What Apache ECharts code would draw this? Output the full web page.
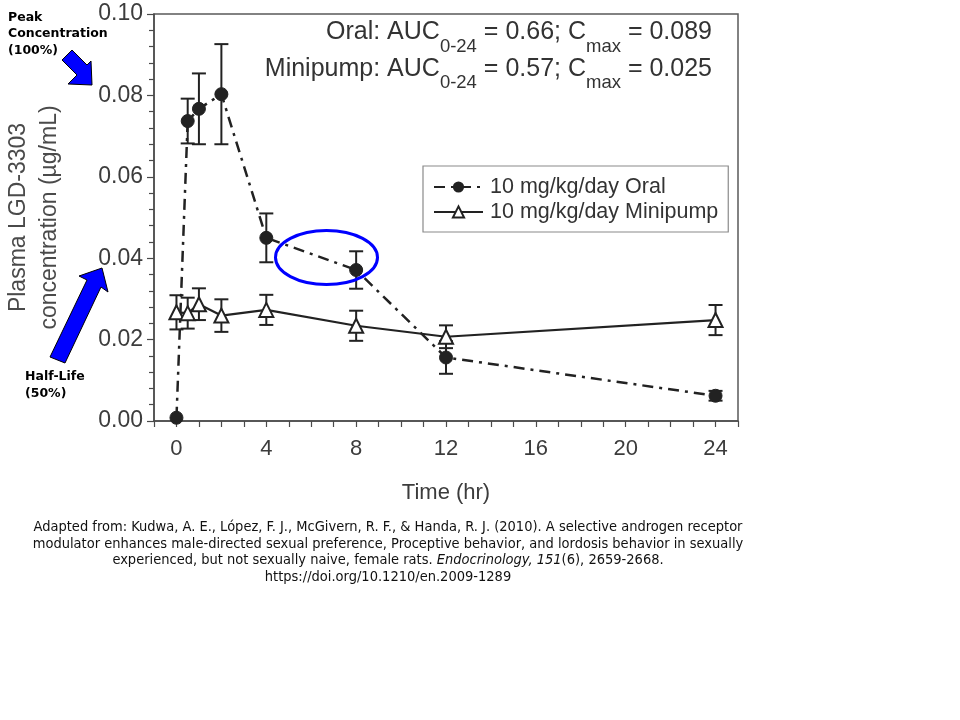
<!DOCTYPE html>
<html>
<head>
<meta charset="utf-8">
<script src="https://cdn.jsdelivr.net/npm/echarts@6/dist/echarts.min.js"></script>
<style>html,body{margin:0;padding:0;background:#fff}#c{width:960px;height:720px}</style>
</head>
<body>
<div id="c"></div>
<script>
// ---- data ----
const times = [0, 0.5, 1, 2, 4, 8, 12, 24];
const oralMean = [0.0008, 0.0737, 0.0767, 0.0803, 0.0450, 0.0371, 0.0156, 0.0062];
const oralErr  = [0, 0.0055, 0.0087, 0.0123, 0.0060, 0.0046, 0.0040, 0.0012];
const pumpMean = [0.0267, 0.0265, 0.0287, 0.0259, 0.0273, 0.0234, 0.0207, 0.0248];
const pumpErr  = [0.0042, 0.0038, 0.0039, 0.0040, 0.0037, 0.0037, 0.0028, 0.0037];
const xTickLabels = [0, 4, 8, 12, 16, 20, 24];
const seriesNames = ['10 mg/kg/day Oral', '10 mg/kg/day Minipump'];
const statLines = [
  '{m|Oral: AUC}{s|0-24}{m| = 0.66; C}{s|max}{m| = 0.089}',
  '{m|Minipump: AUC}{s|0-24}{m| = 0.57; C}{s|max}{m| = 0.025}'
];
const citeLines = [
  'Adapted from: Kudwa, A. E., López, F. J., McGivern, R. F., & Handa, R. J. (2010). A selective androgen receptor',
  'modulator enhances male-directed sexual preference, Proceptive behavior, and lordosis behavior in sexually',
  'experienced, but not sexually naive, female rats. {i|Endocrinology, 151}(6), 2659-2668.',
  'https://doi.org/10.1210/en.2009-1289'
];

const FONT = '"Liberation Sans", Arial, Helvetica, sans-serif';
const CITE_FONT = '"DejaVu Sans Condensed", "Liberation Sans Narrow", "Liberation Sans", sans-serif';
const TXT = '#3c3c3c';
const INK = '#222';

const chart = echarts.init(document.getElementById('c'), null, {renderer: 'canvas'});

function pairs(xs, ys) { return xs.map((x, i) => [x, ys[i]]); }
function errData(xs, m, e) { return xs.map((x, i) => [x, m[i] - e[i], m[i] + e[i]]); }

function errRender(params, api) {
  const x = api.value(0), lo = api.value(1), hi = api.value(2);
  if (hi - lo <= 0) return null;
  const p1 = api.coord([x, lo]);
  const p2 = api.coord([x, hi]);
  const w = 7;
  const st = {stroke: INK, lineWidth: 2};
  return {
    type: 'group',
    children: [
      {type: 'line', shape: {x1: p1[0], y1: p1[1], x2: p2[0], y2: p2[1]}, style: st},
      {type: 'line', shape: {x1: p1[0] - w, y1: p1[1], x2: p1[0] + w, y2: p1[1]}, style: st},
      {type: 'line', shape: {x1: p2[0] - w, y1: p2[1], x2: p2[0] + w, y2: p2[1]}, style: st}
    ]
  };
}

const statGraphics = statLines.map((t, i) => ({
  type: 'text', x: 712, y: 20 + i * 36.7, z: 10,
  style: {
    text: t, align: 'right', verticalAlign: 'top',
    rich: {
      m: {fontSize: 25, lineHeight: 36, fontFamily: FONT, fill: '#333', verticalAlign: 'top'},
      s: {fontSize: 18.5, lineHeight: 18, fontFamily: FONT, fill: '#333', verticalAlign: 'bottom'}
    }
  }
}));

const citeGraphics = citeLines.map((t, i) => ({
  type: 'text', x: 388, y: 527 + i * 16.8, z: 10,
  style: {
    text: t, align: 'center', verticalAlign: 'middle',
    fontSize: 14.5, fontFamily: CITE_FONT, fill: '#111',
    rich: {
      i: {fontStyle: 'italic', fontSize: 14.5, fontFamily: CITE_FONT, fill: '#111'}
    }
  }
}));

const option = {
  backgroundColor: '#fff',
  animation: false,
  grid: {left: 154, top: 14, width: 584, height: 407, show: true, borderColor: '#5a5a5a', borderWidth: 1.5,
         backgroundColor: 'transparent', containLabel: false, outerBoundsMode: 'none'},
  xAxis: {
    type: 'value', min: -1, max: 25, interval: 1,
    axisLine: {show: true, onZero: false, lineStyle: {color: '#4a4a4a', width: 1.5}},
    axisTick: {show: true, length: 6, lineStyle: {color: '#4a4a4a', width: 1.2}},
    axisLabel: {
      margin: 17, fontSize: 22, fontFamily: FONT, color: TXT,
      showMinLabel: true, showMaxLabel: true, hideOverlap: false,
      formatter: v => (xTickLabels.indexOf(Math.round(v * 100) / 100) >= 0 ? String(v) : '')
    },
    splitLine: {show: false},
    name: 'Time (hr)', nameLocation: 'middle', nameGap: 61,
    nameTextStyle: {fontSize: 22, fontFamily: FONT, color: TXT}
  },
  yAxis: {
    type: 'value', min: 0, max: 0.1, interval: 0.02,
    axisLine: {show: true, onZero: false, lineStyle: {color: '#4a4a4a', width: 1.5}},
    axisTick: {show: true, length: 7, lineStyle: {color: '#4a4a4a', width: 1.2}},
    minorTick: {show: true, splitNumber: 5, length: 5, lineStyle: {color: '#4a4a4a', width: 1.2}},
    axisLabel: {margin: 11, fontSize: 23, fontFamily: FONT, color: TXT, formatter: v => v.toFixed(2)},
    splitLine: {show: false},
    name: 'Plasma LGD-3303\nconcentration (µg/mL)', nameLocation: 'middle', nameGap: 89,
    nameTextStyle: {fontSize: 23, lineHeight: 31, fontFamily: FONT, color: '#4a4a4a'}
  },
  legend: {
    data: seriesNames,
    orient: 'vertical', left: 423, top: 166,
    padding: [10, 10, 9, 10], itemGap: 3, itemWidth: 49, itemHeight: 14,
    borderColor: '#8a8a8a', borderWidth: 1.2, backgroundColor: '#fff',
    textStyle: {fontSize: 21.5, fontFamily: FONT, color: '#333', padding: [0, 0, 0, 2]}
  },
  series: [
    {
      type: 'custom', name: 'oralErr', renderItem: errRender, data: errData(times, oralMean, oralErr),
      encode: {x: 0, y: [1, 2]}, z: 2, silent: true
    },
    {
      type: 'custom', name: 'pumpErr', renderItem: errRender, data: errData(times, pumpMean, pumpErr),
      encode: {x: 0, y: [1, 2]}, z: 2, silent: true
    },
    {
      type: 'line', name: seriesNames[0], data: pairs(times, oralMean),
      symbol: 'circle', symbolSize: 13,
      itemStyle: {color: INK, borderColor: INK},
      lineStyle: {color: INK, width: 2.5, type: [11, 6, 3, 6]},
      z: 4
    },
    {
      type: 'line', name: seriesNames[1], data: pairs(times, pumpMean),
      symbol: 'triangle', symbolSize: 14,
      itemStyle: {color: '#fff', borderColor: INK, borderWidth: 2},
      lineStyle: {color: INK, width: 2.2, type: 'solid'},
      z: 5
    }
  ],
  graphic: statGraphics.concat(citeGraphics).concat([
    {
      type: 'text', left: 8, top: 9, z: 10,
      style: {text: 'Peak\nConcentration\n(100%)', fontSize: 12.5, lineHeight: 16.5, fontWeight: 'bold', fontFamily: '"DejaVu Sans", Verdana, sans-serif', fill: '#000'}
    },
    {
      type: 'text', left: 25, top: 368, z: 10,
      style: {text: 'Half-Life\n(50%)', fontSize: 12.5, lineHeight: 17, fontWeight: 'bold', fontFamily: '"DejaVu Sans", Verdana, sans-serif', fill: '#000'}
    },
    {
      type: 'polygon', z: 10,
      shape: {points: [[72, 50], [87, 65], [91, 61], [92, 85], [68, 84], [77, 75], [62, 60]]},
      style: {fill: '#0000ff', stroke: '#000', lineWidth: 1}
    },
    {
      type: 'polygon', z: 10,
      shape: {points: [[50, 357], [87, 280], [79, 276], [102, 268], [108, 292], [101, 287], [65, 363]]},
      style: {fill: '#0000ff', stroke: '#000', lineWidth: 1}
    },
    {
      type: 'ellipse', z: 10,
      shape: {cx: 326.5, cy: 257.5, rx: 51, ry: 27},
      style: {fill: 'none', stroke: '#0000ff', lineWidth: 3}
    }
  ])
};
chart.setOption(option);
</script>
</body>
</html>
